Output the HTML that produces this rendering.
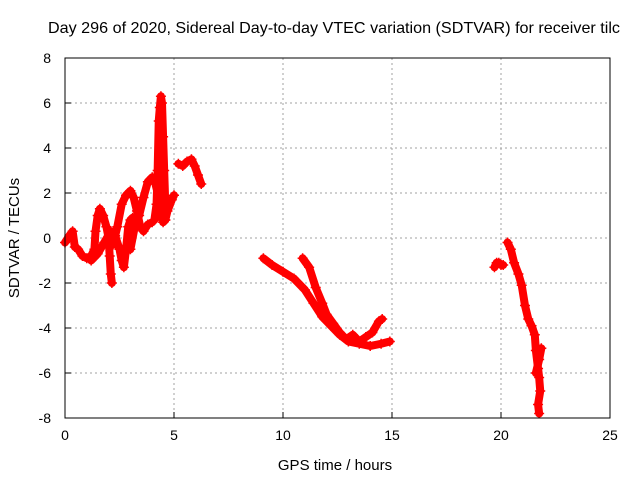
<!DOCTYPE html>
<html><head><meta charset="utf-8"><style>
html,body{margin:0;padding:0;background:#fff}
svg text{font-family:"Liberation Sans",sans-serif;font-size:14px;fill:#000}
</style></head><body>
<svg id="chart" width="640" height="480" xmlns="http://www.w3.org/2000/svg">
<text x="48" y="33" style="font-size:16px" textLength="572" lengthAdjust="spacingAndGlyphs">Day 296 of 2020, Sidereal Day-to-day VTEC variation (SDTVAR) for receiver tilc</text>
<g id="grid"></g>
<g id="ticks"></g>
<g id="series"></g>
<rect x="65" y="58" width="545" height="360" fill="none" stroke="#000" stroke-width="1"/>
<text x="335" y="470" text-anchor="middle" style="font-size:15px">GPS time / hours</text>
<text transform="translate(19,238) rotate(-90)" text-anchor="middle" style="font-size:15px">SDTVAR / TECUs</text>
</svg>
<script>
const xTicks=[0,5,10,15,20,25];
const yTicks=[-8,-6,-4,-2,0,2,4,6,8];
const strand1T=[0.0,0.2,0.35,0.45,0.6,0.8,1.0,1.2,1.35,1.4,1.5,1.6,1.75,1.9,2.0,2.05,2.1,2.15];
const strand1V=[-0.2,0.1,0.3,-0.4,-0.5,-0.8,-0.9,-0.8,-0.5,0.3,1.0,1.3,1.0,0.5,0.0,-0.8,-1.6,-2.0];
const strand2T=[1.2,1.5,1.8,2.1,2.3,2.5,2.6,2.7,2.8,2.9,3.0,3.1];
const strand2V=[-1.0,-0.7,-0.2,0.3,0.1,-0.5,-1.0,-1.3,-0.5,0.5,0.8,0.9];
const strand3T=[2.2,2.4,2.6,2.8,3.0,3.15,3.3,3.45,3.6,3.8,4.0];
const strand3V=[-0.3,0.5,1.5,1.9,2.1,1.8,1.2,0.5,0.3,0.6,0.7];
const strand4T=[3.0,3.2,3.4,3.6,3.8,4.0,4.15,4.3,4.4,4.5,4.6,4.7,4.9,5.0];
const strand4V=[-0.5,0.5,1.0,1.8,2.5,2.7,2.4,1.8,1.0,0.7,0.8,1.2,1.7,1.9];
const spikeT=[4.1,4.2,4.25,4.3,4.35,4.4,4.45,4.5,4.55,4.6,4.6];
const spikeV=[0.8,1.5,3.0,5.2,5.8,6.3,6.0,4.5,3.0,1.5,0.8];
const strand5T=[5.2,5.4,5.6,5.8,5.95,6.1,6.25];
const strand5V=[3.3,3.2,3.4,3.5,3.2,2.8,2.4];
const mid1T=[9.1,9.5,10.0,10.5,11.0,11.4,11.8,12.2,12.6,13.0,13.5,14.0,14.5,14.9];
const mid1V=[-0.9,-1.2,-1.5,-1.8,-2.3,-2.9,-3.5,-3.9,-4.3,-4.6,-4.7,-4.8,-4.7,-4.6];
const mid2T=[10.9,11.2,11.5,11.8,12.0,12.3,12.6,12.9,13.2,13.5,13.8,14.1,14.4,14.55];
const mid2V=[-0.9,-1.3,-2.2,-2.9,-3.4,-3.8,-4.2,-4.5,-4.3,-4.6,-4.4,-4.2,-3.7,-3.6];
const right1T=[19.7,19.8,19.9,20.0,20.1];
const right1V=[-1.3,-1.1,-1.1,-1.2,-1.2];
const right2T=[20.3,20.45,20.6,20.8,20.95,21.1,21.25,21.4,21.55,21.6,21.7,21.75,21.8,21.7,21.75];
const right2V=[-0.2,-0.5,-1.1,-1.6,-2.1,-3.0,-3.6,-3.9,-4.3,-5.0,-5.8,-6.2,-6.8,-7.4,-7.8];
const right3T=[21.6,21.75,21.85];
const right3V=[-6.0,-5.4,-4.9];
const seriesList=[[strand1T,strand1V],[strand2T,strand2V],[strand3T,strand3V],[strand4T,strand4V],[spikeT,spikeV],[strand5T,strand5V],[mid1T,mid1V],[mid2T,mid2V],[right1T,right1V],[right2T,right2V],[right3T,right3V]];

const NS="http://www.w3.org/2000/svg";
const X0=65,X1=610,Y0=418,Y1=58;
function xs(t){return X0+(t-0)/(25-0)*(X1-X0);}
function ys(v){return Y0-(v+8)/16*(Y0-Y1);}
function mk(tag,attrs,parent){const e=document.createElementNS(NS,tag);for(const k in attrs)e.setAttribute(k,attrs[k]);parent.appendChild(e);return e;}
const grid=document.getElementById('grid'),ticks=document.getElementById('ticks'),ser=document.getElementById('series');
xTicks.forEach(t=>{
  const x=xs(t);
  if(t>0&&t<25){const g=mk('line',{x1:x,x2:x,y1:Y1,y2:Y0,stroke:'#a0a0a0','stroke-dasharray':'2,3'},grid);
  
  }
  const tk=mk('line',{x1:x,x2:x,y1:Y0,y2:Y0-6,stroke:'#000'},ticks);
  
  
  const lb=mk('text',{x:x,y:Y0+22,'text-anchor':'middle'},ticks);lb.textContent=t;
  
  
});
yTicks.forEach(v=>{
  const y=ys(v);
  if(v>-8&&v<8){const g=mk('line',{x1:X0,x2:X1,y1:y,y2:y,stroke:'#a0a0a0','stroke-dasharray':'2,3'},grid);
  
  }
  const tk=mk('line',{x1:X0,x2:X0+6,y1:y,y2:y,stroke:'#000'},ticks);
  
  
  const lb=mk('text',{x:X0-14,y:y+5,'text-anchor':'end'},ticks);lb.textContent=v;
  
  
});
seriesList.forEach(([T,V])=>{
  const pts=T.map((t,i)=>xs(t)+','+ys(V[i])).join(' ');
  const pl=mk('polyline',{points:pts,fill:'none',stroke:'#f00','stroke-width':8,'stroke-linejoin':'round','stroke-linecap':'round'},ser);
  
  
  T.forEach((t,i)=>{
    const x=xs(t),y=ys(V[i]);
    const p=mk('path',{d:`M${x-5},${y}H${x+5}M${x},${y-5}V${y+5}`,stroke:'#f00','stroke-width':1.5},ser);
    
    
  });
});
</script>
</body></html>
